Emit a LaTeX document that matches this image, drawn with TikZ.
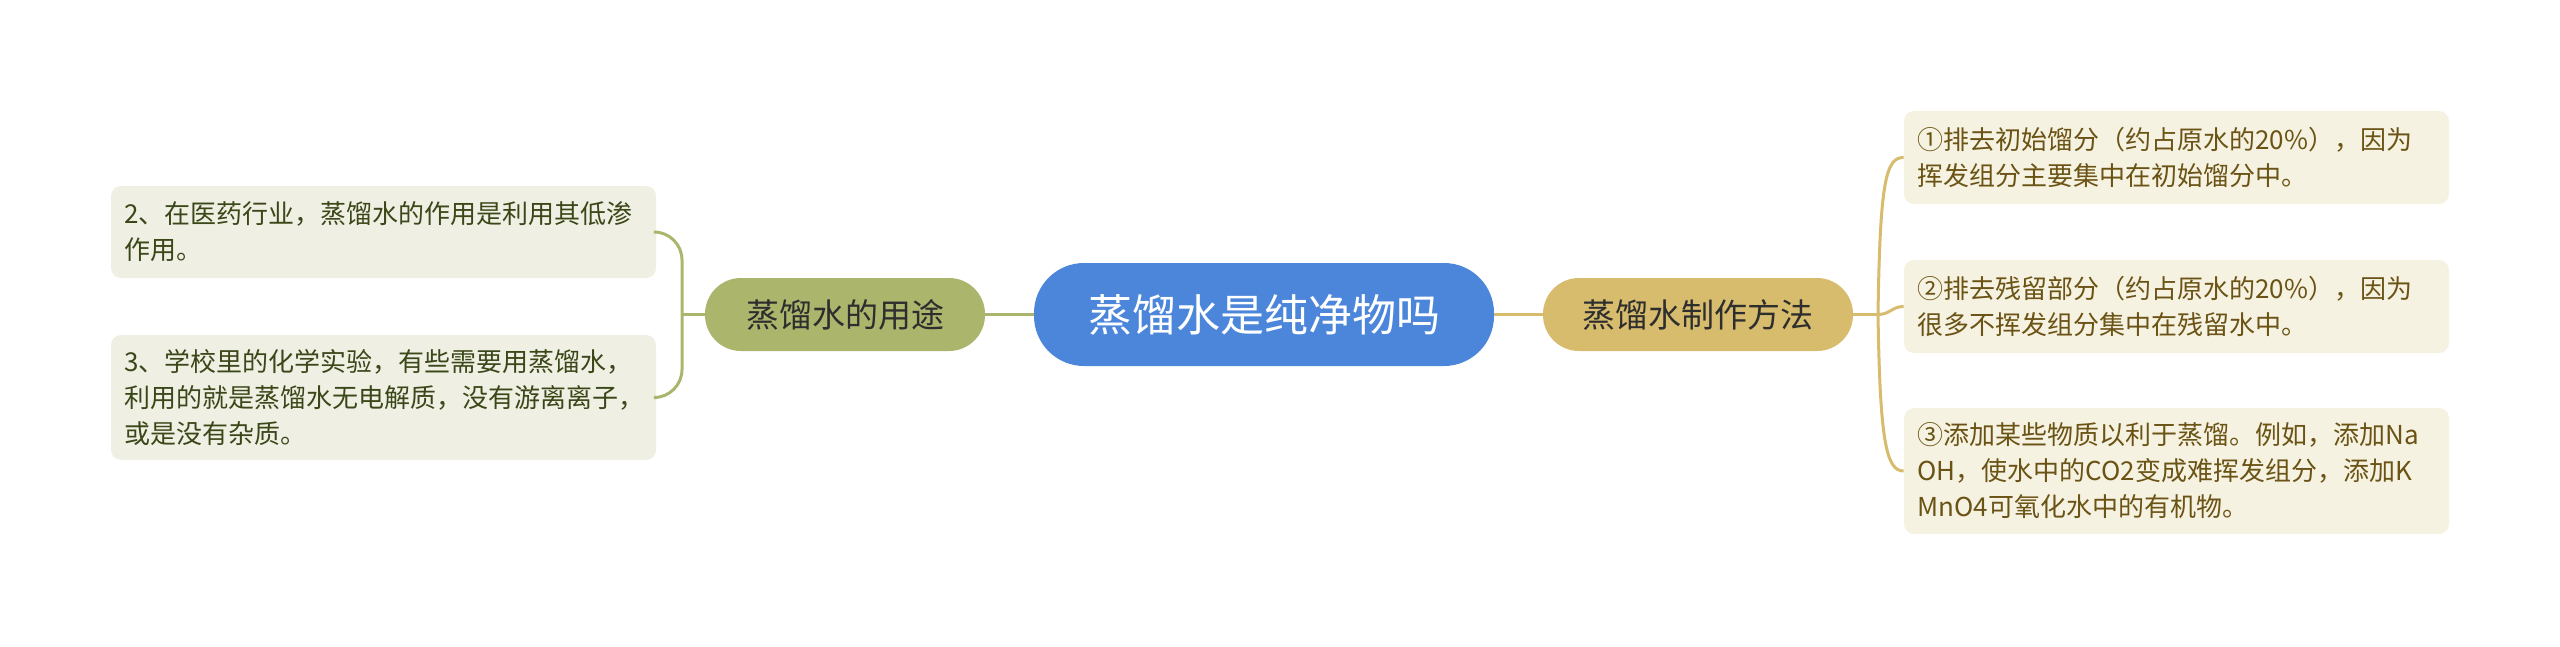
\documentclass[tikz,border=0pt]{standalone}
\usepackage{fontspec}
\setmainfont{Noto Sans CJK SC}
\definecolor{cblue}{HTML}{4C86DA}
\definecolor{gfill}{HTML}{ABB56C}
\definecolor{yfill}{HTML}{D6BC6C}
\definecolor{gleaf}{HTML}{EFF0E3}
\definecolor{yleaf}{HTML}{F6F2E2}
\definecolor{gtext}{HTML}{3B4719}
\definecolor{ytext}{HTML}{6A5314}
\definecolor{btext}{HTML}{2E2E2E}
\begin{document}
\begin{tikzpicture}[x=0.5pt,y=-0.5pt,
  rootbox/.style={fill=cblue, text=white, rounded corners=25pt, minimum width=230pt, minimum height=51.5pt, inner sep=0pt, font=\fontsize{22pt}{26pt}\selectfont},
  gbranch/.style={fill=gfill, text=btext, rounded corners=18pt, minimum width=140pt, minimum height=36.5pt, inner sep=0pt, font=\fontsize{16.5pt}{20pt}\selectfont},
  ybranch/.style={fill=yfill, text=btext, rounded corners=18pt, minimum width=155pt, minimum height=36.5pt, inner sep=0pt, font=\fontsize{16.5pt}{20pt}\selectfont},
  leafbox/.style={rounded corners=5pt, minimum width=272.5pt, text width=259pt, inner xsep=6.75pt, inner ysep=0pt, align=left, font=\fontsize{13pt}{18pt}\selectfont},
  gleafbox/.style={leafbox, fill=gleaf, text=gtext},
  yleafbox/.style={leafbox, fill=yleaf, text=ytext},
  gline/.style={draw=gfill, line width=1.5pt},
  yline/.style={draw=yfill, line width=1.5pt}
]
\useasboundingbox (0,0) rectangle (2560,647);
\node[rootbox] (root) at (1264,314.5) {蒸馏水是纯净物吗};
\node[gbranch] (use) at (845,314.5) {蒸馏水的用途};
\node[ybranch] (make) at (1698,314.5) {蒸馏水制作方法};

\node[gleafbox, minimum height=46pt] (l1) at (383.5,232) {2、在医药行业，蒸馏水的作用是利用其低渗\\作用。};
\node[gleafbox, minimum height=62.5pt] (l2) at (383.5,397.5) {3、学校里的化学实验，有些需要用蒸馏水，\\利用的就是蒸馏水无电解质，没有游离离子，\\或是没有杂质。};

\node[yleafbox, minimum height=46.5pt] (r1) at (2176.5,157.5) {①排去初始馏分（约占原水的20\%），因为\\挥发组分主要集中在初始馏分中。};
\node[yleafbox, minimum height=46.5pt] (r2) at (2176.5,306.5) {②排去残留部分（约占原水的20\%），因为\\很多不挥发组分集中在残留水中。};
\node[yleafbox, minimum height=63pt] (r3) at (2176.5,471) {③添加某些物质以利于蒸馏。例如，添加Na\\OH，使水中的CO2变成难挥发组分，添加K\\MnO4可氧化水中的有机物。};

\coordinate (lj) at (682,314.5);
\coordinate (rj) at (1878,314.5);

\draw[gline] (root.west) -- (use.east);
\draw[yline] (root.east) -- (make.west);

\draw[gline] (use.west) -- (lj);
\draw[gline, rounded corners=14pt] (l1.east) -- (l1.east -| lj) -- (l2.east -| lj) -- (l2.east);

\draw[yline] (make.east) -- (rj);
\draw[yline] (rj) .. controls (1880,180) and (1886,157.5) .. (r1.west);
\draw[yline] (rj) .. controls (1890,314.5) and (1892,306.5) .. (r2.west);
\draw[yline] (rj) .. controls (1880,440) and (1886,471) .. (r3.west);
\end{tikzpicture}
\end{document}
